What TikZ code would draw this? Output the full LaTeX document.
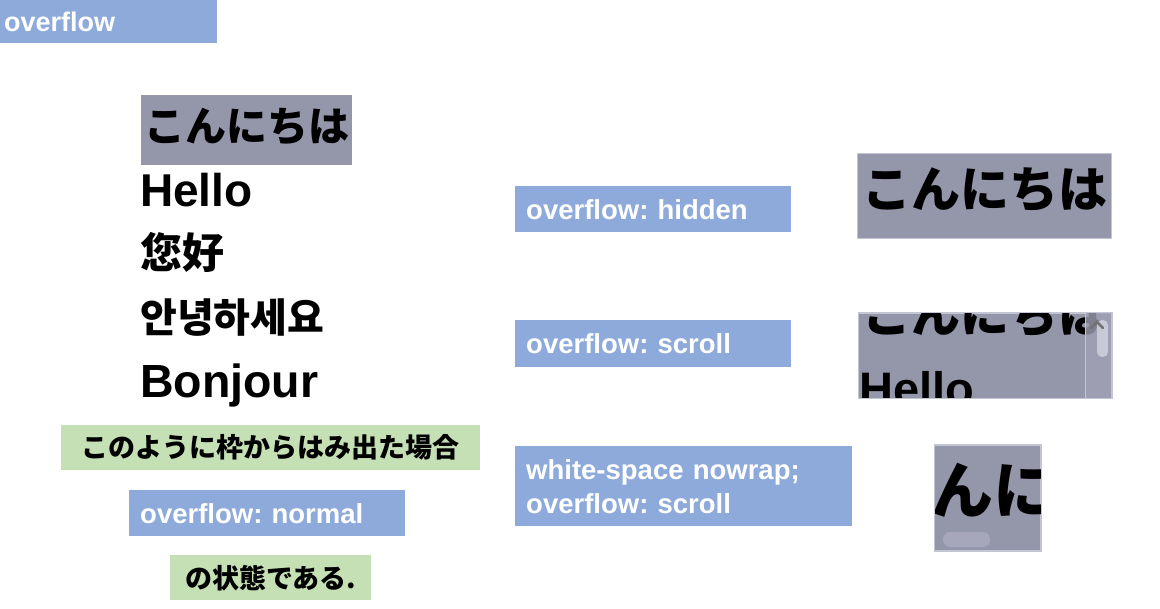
\documentclass[tikz,border=0pt]{standalone}
\usepackage{fontspec}
\setmainfont{Liberation Sans}
\newfontfamily\jpf{Noto Sans CJK JP}
\newfontfamily\scf{Noto Sans CJK SC}
\newfontfamily\krf{Noto Sans CJK KR}
\definecolor{lblue}{RGB}{142,170,219}
\definecolor{lgreen}{RGB}{197,224,180}
\definecolor{boxgray}{RGB}{148,150,170}
\definecolor{boxedge}{RGB}{196,197,210}
\definecolor{barstrip}{RGB}{160,161,180}
\definecolor{thumb}{RGB}{200,201,214}
\definecolor{hthumb}{RGB}{166,167,186}
\tikzset{
  x=1pt,y=1pt,
  lbl/.style={fill=lblue,text=white,font=\bfseries\fontsize{27.5}{32}\selectfont,anchor=north west,inner xsep=11pt,inner ysep=0pt,align=left},
  note/.style={fill=lgreen,text=black,font=\jpf\bfseries\fontsize{27}{32}\selectfont,anchor=north west,inner sep=0pt,align=center},
  grayfill/.style={fill=boxgray,draw=boxedge,line width=1pt},
  txt/.style={anchor=base west,inner sep=0pt,text=black}
}
\begin{document}
\frenchspacing
\begin{tikzpicture}
\useasboundingbox (0,0) rectangle (1160,-609);
% title
\node[lbl,minimum width=217pt,minimum height=43pt,inner xsep=4pt,text width=209pt,font=\bfseries\fontsize{27}{30}\selectfont] (title) at (0,0) {overflow};
% left list
\node[fill=boxgray,anchor=north west,minimum width=211pt,minimum height=70pt,inner sep=0pt] (lbox) at (141,-95) {};
\node[txt,font=\jpf\bfseries\fontsize{41}{48}\selectfont] (l1) at (144,-142) {こんにちは};
\node[txt,font=\bfseries\fontsize{46}{56}\selectfont] (l2) at (140,-207) {Hello};
\node[txt,font=\scf\bfseries\fontsize{42}{48}\selectfont] (l3) at (140,-269) {您好};
\node[txt,font=\krf\bfseries\fontsize{40}{46}\selectfont] (l4) at (140,-333) {안녕하세요};
\node[txt,font=\bfseries\fontsize{46.5}{58}\selectfont] (l5) at (140,-398) {Bonjour};
% notes
\node[note,minimum width=419pt,minimum height=45pt] (n1) at (61,-425) {このように枠からはみ出た場合};
\node[lbl,minimum width=276pt,minimum height=46pt,text width=254pt] (n2) at (129,-490) {overflow: normal};
\node[note,minimum width=201pt,minimum height=45pt] (n3) at (170,-555) {の状態である.};
% right labels
\node[lbl,minimum width=276pt,minimum height=46pt,text width=254pt] (h) at (515,-186) {overflow: hidden};
\node[lbl,minimum width=276pt,minimum height=47pt,text width=254pt] (s) at (515,-320) {overflow: scroll};
\node[lbl,minimum width=337pt,minimum height=80pt,text width=315pt,font=\bfseries\fontsize{27.5}{34}\selectfont] (w) at (515,-446) {white-space nowrap;\\overflow: scroll};
% hidden box
\node[grayfill,anchor=north west,minimum width=254pt,minimum height=85pt,inner sep=0pt] (hb) at (857,-153) {};
\begin{scope}
\clip (hb.north west) rectangle (hb.south east);
\node[txt,font=\jpf\bfseries\fontsize{49}{56}\selectfont] (ht) at (862,-208) {こんにちは};
\end{scope}
% scroll box
\node[grayfill,anchor=north west,minimum width=253pt,minimum height=85pt,inner sep=0pt] (sb) at (858,-313) {};
\begin{scope}
\clip (sb.north west) rectangle (sb.south east);
\node[txt,font=\jpf\bfseries\fontsize{49}{56}\selectfont] (st1) at (862,-333) {こんにちは};
\node[txt,font=\bfseries\fontsize{47}{58}\selectfont] (st2) at (859,-406) {Hello};
\fill[barstrip,opacity=0.8] (1085,-313) rectangle (1111,-398);
\draw[boxedge,line width=0.8pt] (1085,-313) -- (1085,-398);
\fill[thumb,rounded corners=5pt] (1097,-320) rectangle (1108,-357);
\draw[black!55,line width=2.5pt,line cap=round] (1091,-328) -- (1097,-322) -- (1103,-328);
\end{scope}
\draw[boxedge,line width=1pt] (sb.north west) rectangle (sb.south east);
% nowrap box
\node[grayfill,anchor=north west,minimum width=106pt,minimum height=105pt,inner sep=0pt] (wb) at (934,-445) {};
\begin{scope}
\clip (wb.north west) rectangle (wb.south east);
\node[txt,font=\jpf\bfseries\fontsize{62}{70}\selectfont] (wt) at (869,-514) {こんにちは};
\fill[hthumb,rounded corners=7pt] (943,-532) rectangle (990,-547);
\end{scope}
\draw[boxedge,line width=1pt] (wb.north west) rectangle (wb.south east);
\end{tikzpicture}
\end{document}
